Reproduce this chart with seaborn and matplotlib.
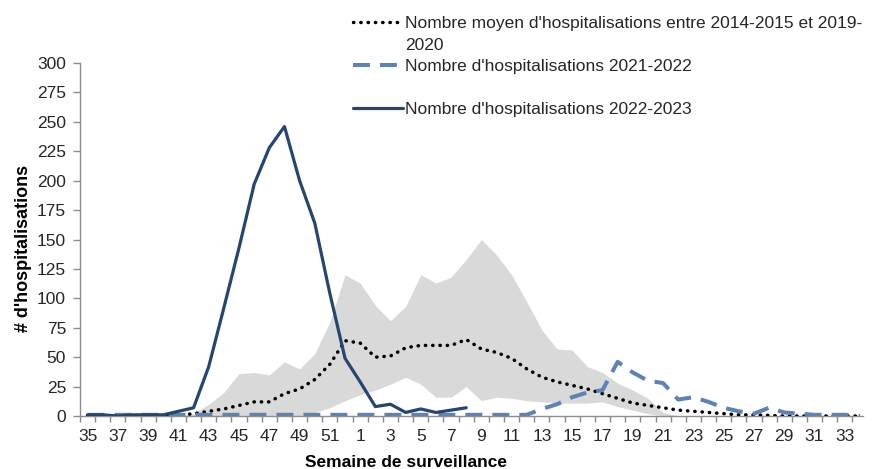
import numpy as np
import pandas as pd
import seaborn as sns
import matplotlib.pyplot as plt
from matplotlib.lines import Line2D

# semaines de surveillance 35..52 puis 1..34
semaines = list(range(35, 53)) + list(range(1, 35))

# moyenne 2014-2015 a 2019-2020
moyenne_1420 = [0, 0, 0, 0, 0, 0, 0.5, 2, 4, 6, 9, 12, 12, 19, 23, 31, 44, 64,
                62, 50, 51, 58, 60, 60, 60, 65, 57, 54, 49, 40, 33, 29, 26, 23, 19, 15,
                11, 9, 7, 5, 4, 3, 2, 1, 1, 0.5, 0, 0, 0, 0, 0, 0]
# bornes de la zone grise
max_1420 = [0, 0, 0, 0, 0, 0, 0, 2, 10, 20, 36, 37, 35, 46, 40, 53, 80, 120,
            113, 94, 81, 93, 120, 113, 118, 133, 150, 137, 120, 97, 73, 57, 56, 42, 37, 28,
            22, 15, 3, 0, 0, 0, 0, 0, 0, 0, 0, 0, 0, 0, 0, 0]
min_1420 = [0, 0, 0, 0, 0, 0, 0, 0, 0, 0, 0, 0, 0, 0, 0, 3, 7, 13,
            18, 22, 27, 33, 27, 16, 16, 25, 13, 16, 15, 13, 12, 11, 11, 11, 12, 8,
            5, 2, 0, 0, 0, 0, 0, 0, 0, 0, 0, 0, 0, 0, 0, 0]
hosp_2122 = [1, 1, 1, 1, 1, 1, 1, 1, 1, 1, 1, 1, 1, 1, 1, 1, 1, 1,
             1, 1, 1, 1, 1, 1, 1, 1, 1, 1, 1, 1, 6, 10, 16, 20, 22, 46,
             37, 30, 28, 14, 16, 12, 7, 4, 2, 7, 3, 2, 1, 1, 1, 0]
hosp_2223 = [1, 1, 0, 1, 1, 1, 4, 7, 42, 92, 143, 197, 228, 246, 200, 164, 104, 49,
             29, 8, 10, 3, 6, 3, 5, 7] + [np.nan] * 26

df = pd.DataFrame({
    'pos': np.arange(len(semaines)),
    'semaine': semaines,
    'moyenne': moyenne_1420,
    'haut': max_1420,
    'bas': min_1420,
    'h2122': hosp_2122,
    'h2223': hosp_2223,
})

sns.set_theme(style='ticks')
plt.rcParams['font.family'] = ['Liberation Sans', 'DejaVu Sans']

c_fonce = '#254672'
c_tiret = '#5B83B5'
c_gris = '#D9D9D9'
c_axe = '#8C8C8C'
c_texte = '#262626'

fig = plt.figure(figsize=(8.72, 4.69), dpi=100)
ax = fig.add_axes([80 / 872, 53 / 469, 783 / 872, 353 / 469])

ax.fill_between(df.pos, df.bas, df.haut, color=c_gris, lw=0, zorder=1)
sns.lineplot(data=df, x='pos', y='moyenne', ax=ax, color='black', lw=2.5,
             linestyle=(0, (0.1, 2)), dash_capstyle='round', errorbar=None, zorder=3)
sns.lineplot(data=df, x='pos', y='h2122', ax=ax, color=c_tiret, lw=2.9,
             linestyle=(0, (4.2, 2.5)), errorbar=None, zorder=4)
sns.lineplot(data=df.dropna(), x='pos', y='h2223', ax=ax, color=c_fonce, lw=2.3,
             errorbar=None, zorder=5)

ax.set_xlim(-0.5, 51.2)
ax.set_ylim(0, 300)
ax.set_xlabel('')
ax.set_ylabel('')

ax.set_yticks(np.arange(0, 301, 25))
ax.tick_params(axis='y', length=5, width=1, color=c_axe, labelsize=12.5,
               labelcolor=c_texte, pad=5)
ax.set_xticks(df.pos[::2])
ax.set_xticklabels(df.semaine[::2])
ax.set_xticks(np.arange(-0.5, 51.5, 1), minor=True)
ax.tick_params(axis='x', which='major', length=0, labelsize=12.5,
               labelcolor=c_texte, pad=9)
ax.tick_params(axis='x', which='minor', length=4.5, width=1, color=c_axe)

for s in ['top', 'right']:
    ax.spines[s].set_visible(False)
for s in ['left', 'bottom']:
    ax.spines[s].set_color(c_axe)
    ax.spines[s].set_linewidth(1)

fig.text(23 / 872, 1 - 248 / 469, "# d'hospitalisations", rotation=90,
         ha='center', va='center', fontsize=13, fontweight='bold', color='black')
fig.text(406 / 872, 1 - 462 / 469, 'Semaine de surveillance',
         ha='center', va='center', fontsize=12.5, fontweight='bold', color='black')

handles = [
    Line2D([], [], color='black', lw=2.5, linestyle=(0, (0.1, 2)), dash_capstyle='round'),
    Line2D([], [], linestyle='none'),
    Line2D([], [], color=c_tiret, lw=2.9, linestyle=(0, (4.2, 2.5))),
    Line2D([], [], linestyle='none'),
    Line2D([], [], color=c_fonce, lw=2.3),
]
labels = [
    "Nombre moyen d'hospitalisations entre 2014-2015 et 2019-",
    '2020',
    "Nombre d'hospitalisations 2021-2022",
    ' ',
    "Nombre d'hospitalisations 2022-2023",
]
ax.legend(handles, labels, loc='upper left', bbox_to_anchor=(353 / 872, 1 - 16 / 469),
          bbox_transform=fig.transFigure, frameon=False, borderpad=0, borderaxespad=0,
          handlelength=2.86, handletextpad=0.15, labelspacing=0.37, fontsize=12.5,
          labelcolor=c_texte)

fig.savefig('out.png', dpi=100)
